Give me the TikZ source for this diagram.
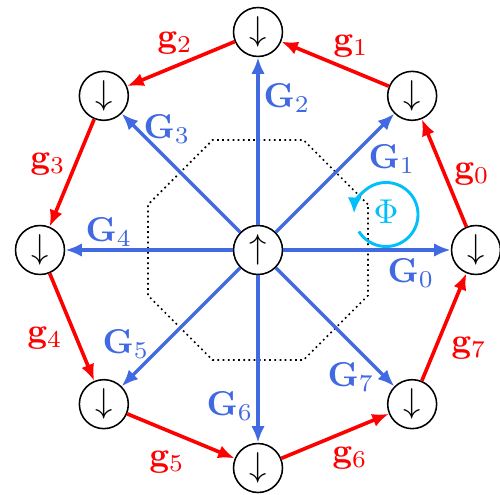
\documentclass[tikz,border=0pt]{standalone}
\usetikzlibrary{arrows.meta}
\definecolor{gblue}{RGB}{65,105,225}
\definecolor{gred}{RGB}{255,0,0}
\definecolor{gcyan}{RGB}{0,191,250}
\begin{document}
\begin{tikzpicture}[x=0.29pt,y=0.29pt,
  site/.style={circle,draw=black,line width=0.45pt,minimum size=14.2pt,inner sep=0pt,fill=white},
  Garr/.style={gblue,line width=1pt,-{Latex[length=4.8pt,width=3.9pt]}},
  garr/.style={gred,line width=1.05pt,-{Latex[length=4.8pt,width=3.9pt]}},
  phiarr/.style={gcyan,line width=0.85pt,-{Latex[length=4.6pt,width=4pt]}},
  Glab/.style={text=gblue,inner sep=0pt},
  glab/.style={text=gred,inner sep=0pt},
  octo/.style={black,line width=0.5pt,densely dotted}]
\useasboundingbox (-258,-244) rectangle (242,250);
% dotted octagon
\draw[octo] (22.5:119) -- (67.5:119) -- (112.5:119) -- (157.5:119) -- (202.5:119) -- (247.5:119) -- (292.5:119) -- (337.5:119) -- cycle;
% nodes
\node[site] (c) at (0,0) {$\uparrow$};
\foreach \k in {0,...,7} {
  \node[site] (n\k) at (45*\k:218) {$\downarrow$};
}
% blue arrows
\foreach \k in {0,...,7} {
  \draw[Garr] (c) -- (n\k);
}
% red arrows
\foreach \k [evaluate=\k as \j using {int(mod(\k+1,8))}] in {0,...,7} {
  \draw[garr] (n\k) -- (n\j);
}
% blue labels
\node[Glab] (G0) at (153,-23) {$\mathbf{G}_0$};
\node[Glab] (G1) at (134,91) {$\mathbf{G}_1$};
\node[Glab] (G2) at (29,152) {$\mathbf{G}_2$};
\node[Glab] (G3) at (-91,121) {$\mathbf{G}_3$};
\node[Glab] (G4) at (-149,18) {$\mathbf{G}_4$};
\node[Glab] (G5) at (-132,-94) {$\mathbf{G}_5$};
\node[Glab] (G6) at (-28,-156) {$\mathbf{G}_6$};
\node[Glab] (G7) at (93,-127) {$\mathbf{G}_7$};
% red labels
\node[glab] (g0) at (214,76) {$\mathbf{g}_0$};
\node[glab] (g1) at (93,204) {$\mathbf{g}_1$};
\node[glab] (g2) at (-83,207) {$\mathbf{g}_2$};
\node[glab] (g3) at (-210,86) {$\mathbf{g}_3$};
\node[glab] (g4) at (-213,-88) {$\mathbf{g}_4$};
\node[glab] (g5) at (-91,-212) {$\mathbf{g}_5$};
\node[glab] (g6) at (92,-208) {$\mathbf{g}_6$};
\node[glab] (g7) at (211,-98) {$\mathbf{g}_7$};
% Phi rotation
\coordinate (phic) at (128,35.5);
\node[text=gcyan,inner sep=0pt] (phi) at (128,38) {$\Phi$};
\draw[phiarr] ([shift={(212:32)}]phic) arc[start angle=212,end angle=538,radius=32];
\end{tikzpicture}
\end{document}
